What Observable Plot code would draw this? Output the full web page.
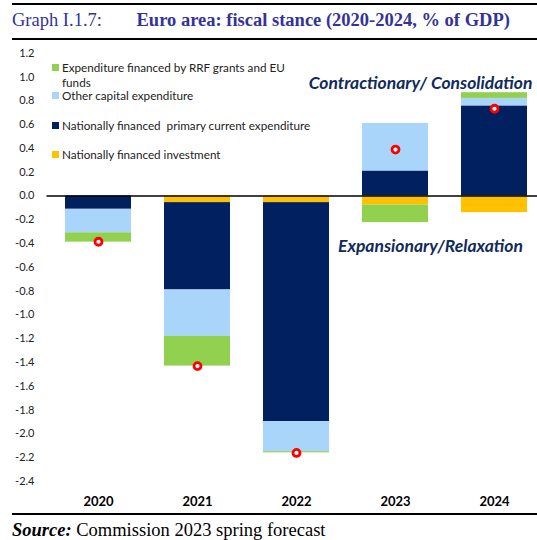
<!DOCTYPE html>
<html>
<head>
<meta charset="utf-8">
<script src="https://cdn.jsdelivr.net/npm/d3@7"></script>
<script src="https://cdn.jsdelivr.net/npm/@observablehq/plot@0.6"></script>
<style>
  body { margin: 0; background: #fff; }
  #wrap { position: relative; width: 537px; height: 540px; overflow: hidden; }
  .hline { position: absolute; left: 12px; right: 0; height: 2px; background: #000; }
  .serif { position: absolute; font-family: "Liberation Serif", "Times New Roman", serif; font-size: 18.5px; line-height: 18.5px; white-space: nowrap; }
  .title { color: #333399; }
  .leg { position: absolute; left: 52px; font-family: Lato, sans-serif; font-size: 11.7px; line-height: 15px; color: #222; white-space: pre; }
  .sw { position: absolute; left: 0; width: 7px; height: 7px; }
  .lt { position: absolute; left: 10px; top: 0; }
</style>
</head>
<body>
<div id="wrap">
  <div class="hline" style="top:3px"></div>
  <div class="serif title" style="left:12px; top:11.2px">Graph I.1.7:</div>
  <div class="serif title" style="left:136.5px; top:11.2px; font-weight:bold">Euro area: fiscal stance (2020-2024, % of GDP)</div>
  <div class="hline" style="top:37.5px"></div>
  <div id="chart" style="position:absolute; left:0; top:40px"></div>
  <div id="legend"></div>
  <div class="hline" style="top:513px"></div>
  <div class="serif" style="left:12px; top:521.2px"><b><i>Source:</i></b> Commission 2023 spring forecast</div>
</div>
<script>
// ---- data ----
const years = ["2020", "2021", "2022", "2023", "2024"];
const investment = [0, -0.056, -0.056, -0.076, -0.14];     // Nationally financed investment
const currentExp = [-0.112, -0.734, -1.84, 0.21, 0.757];   // Nationally financed primary current expenditure
const capitalExp = [-0.198, -0.39, -0.253, 0.40, 0.063];   // Other capital expenditure
const rrfExp = [-0.078, -0.25, -0.01, -0.148, 0.048];      // Expenditure financed by RRF grants and EU funds
const fiscalStance = [-0.385, -1.43, -2.16, 0.39, 0.733];  // total (dots)
const yTicks = [1.2, 1.0, 0.8, 0.6, 0.4, 0.2, 0.0, -0.2, -0.4, -0.6, -0.8, -1.0, -1.2, -1.4, -1.6, -1.8, -2.0, -2.2, -2.4];
const seriesNames = [
  "Nationally financed investment",
  "Nationally financed  primary current expenditure",
  "Other capital expenditure",
  "Expenditure financed by RRF grants and EU funds"
];
const seriesColors = ["#ffc000", "#002060", "#a9d5fb", "#92d050"];
const seriesValues = [investment, currentExp, capitalExp, rrfExp];
const annotations = ["Contractionary/ Consolidation", "Expansionary/Relaxation"];
const annotationY = [0.947, -0.427];

// ---- build ----
const rows = [];
seriesNames.forEach((s, k) => years.forEach((yr, i) => rows.push({year: yr, series: s, value: seriesValues[k][i]})));
const dots = years.map((yr, i) => ({year: yr, value: fiscalStance[i]}));
const ann = annotations.map((t, i) => ({label: t, y: annotationY[i]}));
const fmt = d => d.toFixed(1);

const chart = Plot.plot({
  width: 537,
  height: 472,
  marginLeft: 46.5,
  marginRight: 0,
  marginTop: 12.7,
  marginBottom: 31,
  style: {fontFamily: "Lato, sans-serif", fontSize: "11px", color: "#222", background: "transparent", overflow: "visible"},
  x: {domain: years, range: [46.5, 544.5], paddingInner: 0.337, paddingOuter: 0.1685, label: null},
  y: {domain: [-2.4, 1.2], label: null},
  color: {domain: seriesNames, range: seriesColors},
  marks: [
    Plot.barY(rows, {x: "year", y: "value", fill: "series", order: seriesNames}),
    Plot.ruleY([0], {stroke: "#000", strokeWidth: 1.5}),
    Plot.dot(dots, {x: "year", y: "value", r: 3.5, fill: "white", stroke: "#ff0000", strokeWidth: 2.8}),
    Plot.text([ann[0]], {y: "y", text: "label", frameAnchor: "right", textAnchor: "end", dx: -5, fontSize: 17.5, fontWeight: "bold", fontStyle: "italic", fill: "#0f2b5b"}),
    Plot.text([ann[1]], {y: "y", text: "label", frameAnchor: "right", textAnchor: "end", dx: -14.5, fontSize: 17.5, fontWeight: "bold", fontStyle: "italic", fill: "#0f2b5b"}),
    Plot.axisY({ticks: yTicks, tickFormat: fmt, tickSize: 0, tickPadding: 12.5, fontSize: 11, label: null}),
    Plot.axisX({tickSize: 0, tickPadding: 15, fontSize: 13, fontWeight: "bold", fill: "#000", label: null})
  ]
});
document.getElementById("chart").appendChild(chart);

// ---- legend (order as in reference, top to bottom) ----
const legendOrder = [3, 2, 1, 0];
const legendLines = {3: "Expenditure financed by RRF grants and EU\nfunds"};
const legendCenters = [67.3, 96, 126, 155]; // layout: vertical centre of first line
const legend = document.getElementById("legend");
legendOrder.forEach((k, j) => {
  const item = document.createElement("div");
  item.className = "leg";
  item.style.top = (legendCenters[j] - 7.8) + "px";
  const sw = document.createElement("div");
  sw.className = "sw";
  sw.style.background = seriesColors[k];
  sw.style.top = "4.3px";
  const t = document.createElement("div");
  t.className = "lt";
  t.textContent = legendLines[k] || seriesNames[k];
  item.appendChild(sw);
  item.appendChild(t);
  legend.appendChild(item);
});
</script>
</body>
</html>
